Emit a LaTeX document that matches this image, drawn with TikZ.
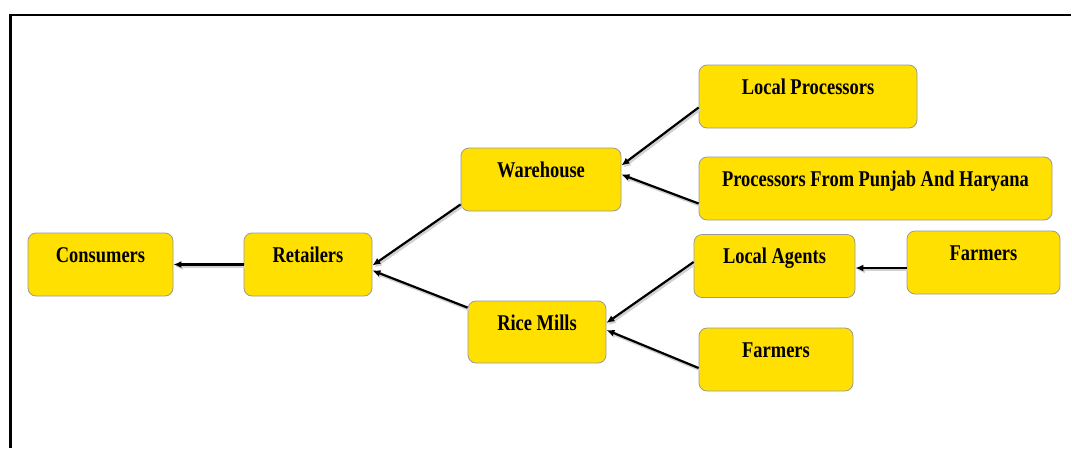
\documentclass[tikz,border=0pt]{standalone}
\usepackage{fontspec}
\usepackage{xcolor}
\usepackage{tikz}
\usetikzlibrary{
  arrows.meta,
  calc
}
\definecolor{boxfill}{HTML}{FFE000}
\definecolor{boxline}{HTML}{9A9A9A}
\newfontfamily\chainfont{Liberation Serif}[FakeStretch=0.82]

\begin{document}
\begin{tikzpicture}[
  x=1pt, y=-1pt,
  stage/.style={draw=boxline, fill=boxfill, rounded corners=8pt, line width=0.8pt,
                inner ysep=0pt, text height=29pt, text depth=34pt,
                font=\chainfont\bfseries\fontsize{22.5}{24}\selectfont},
  flow/.style={draw, line width=2.2pt, -{Latex[length=8pt,width=7pt]},
               preaction={draw=black!18, line width=2.5pt,
                          transform canvas={shift={(1.5pt,-2pt)}}}},
  frame/.style={line width=2.5pt},
]
  \useasboundingbox (0,0) rectangle (1072,448);

  % Outer frame (top and left only)
  \draw[frame] (1071,15) -- (10.5,15) -- (10.5,448);

  % Stages of the chain
  \node[stage, minimum width=145pt] (cons)   at (100.5,264.5) {Consumers};
  \node[stage, minimum width=128pt] (ret)    at (308,264.5)   {Retailers};
  \node[stage, minimum width=160pt] (ware)   at (541,179.5)   {Warehouse};
  \node[stage, minimum width=138pt, text depth=33pt] (mills) at (537,332) {Rice Mills};
  \node[stage, minimum width=218pt] (lproc)  at (808,96.5)    {Local Processors};
  \node[stage, minimum width=353pt] (punj)   at (875.5,188.5) {Processors From Punjab And Haryana};
  \node[stage, minimum width=161pt] (agents) at (774.5,266)   {Local Agents};
  \node[stage, minimum width=153pt] (farmA)  at (983.5,262.5) {Farmers};
  \node[stage, minimum width=154pt] (farmB)  at (776,359.5)   {Farmers};

  % Flows
  \draw[flow] (ret.west) -- (cons.east);
  \draw[flow] ([yshift=7pt]ware.south west) -- ([yshift=-1pt]ret.east);
  \draw[flow] ([yshift=-7pt]mills.north west) -- ([yshift=-6pt]ret.east);
  \draw[flow] ([yshift=-11pt]lproc.west) -- ([yshift=14pt]ware.east);
  \draw[flow] ([yshift=-15pt]punj.west) -- ([yshift=5pt]ware.east);
  \draw[flow] ([yshift=4pt]agents.west) -- ([yshift=9pt]mills.east);
  \draw[flow] ([yshift=-8.5pt]farmB.west) -- ([yshift=2pt]mills.east);
  \draw[flow] ([yshift=-5.5pt]farmA.west) -- ([yshift=-2pt]agents.east);

\end{tikzpicture}
\end{document}
